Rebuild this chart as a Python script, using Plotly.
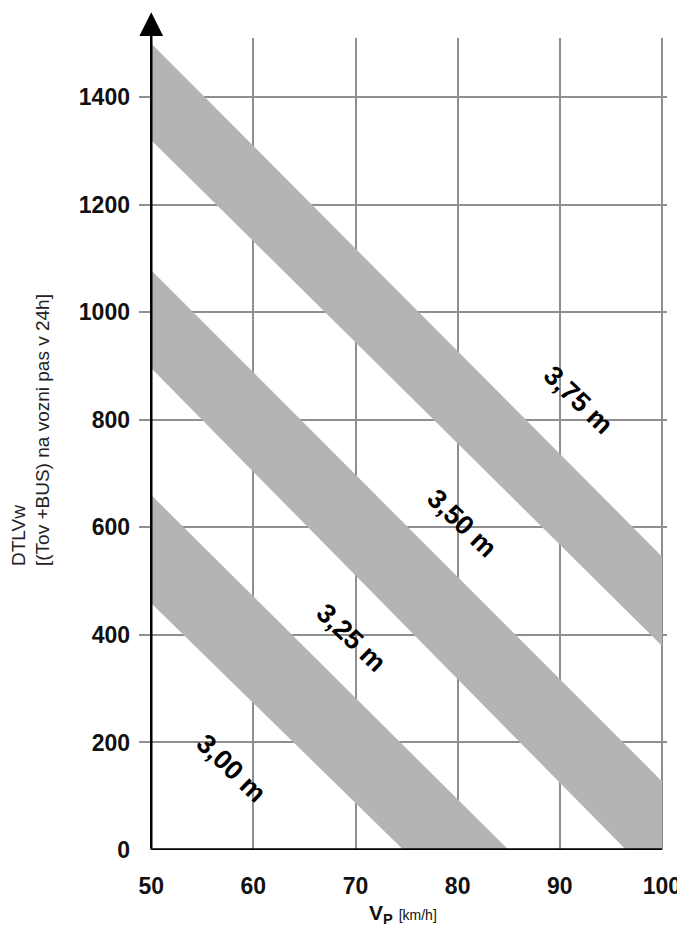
import plotly.graph_objects as go

# Data
band_labels = ["3,75 m", "3,50 m", "3,25 m"]
# polygon vertices of each shaded band (V_p, DTLVw)
band_x = [
    [50, 100, 100, 50],
    [50, 100, 100, 96.5, 50],
    [50, 85, 74.7, 50],
]
band_y = [
    [1500, 546, 380, 1320],
    [1078, 128, 0, 0, 896],
    [660, 0, 0, 459],
]
label_texts = ["3,75 m", "3,50 m", "3,25 m", "3,00 m"]
label_x = [91.8, 80.4, 69.6, 57.8]
label_y = [836, 608, 394, 152]
x_ticks = [50, 60, 70, 80, 90, 100]
y_ticks = [0, 200, 400, 600, 800, 1000, 1200, 1400]

FONT = "Liberation Sans, Arial, sans-serif"
GRAY = "#b4b4b4"

fig = go.Figure()
for xs, ys, name in zip(band_x, band_y, band_labels):
    fig.add_trace(go.Scatter(x=xs, y=ys, fill="toself", fillcolor=GRAY,
                             line=dict(width=0), mode="lines", name=name,
                             showlegend=False, hoverinfo="skip"))

for t, x, y in zip(label_texts, label_x, label_y):
    fig.add_annotation(x=x, y=y, text=t, showarrow=False,
                       textangle=44, font=dict(size=27, color="black", family=FONT, weight="bold"))

# x axis line
fig.add_shape(type="line", x0=50, x1=100, y0=0, y1=0, xref="x", yref="y",
              line=dict(color="black", width=3.5), layer="above")
# y axis with arrow
fig.add_annotation(x=50, y=1558, ax=50, ay=0, xref="x", yref="y", axref="x", ayref="y",
                   showarrow=True, arrowhead=2, arrowsize=1.9, arrowwidth=2.5,
                   arrowcolor="black", text="")

# y title
fig.add_annotation(xref="paper", yref="paper", x=-0.205, y=0.347, xanchor="center", yanchor="bottom",
                   text="DTLVw<br>[(Tov +BUS) na vozni pas v 24h]", showarrow=False,
                   textangle=-90, font=dict(size=19, color="#222", family=FONT), align="left")
# x title
fig.add_annotation(xref="paper", yref="paper", x=0.5, y=-0.079, xanchor="center", yanchor="middle",
                   text="<b>V<sub>P</sub></b> <span style='font-size:14px'>[km/h]</span>",
                   showarrow=False, font=dict(size=21, color="#111", family=FONT))

fig.update_layout(
    width=685, height=930,
    margin=dict(l=131, r=17, t=30, b=88),
    plot_bgcolor="white", paper_bgcolor="white",
    font=dict(family=FONT, color="black"),
    xaxis=dict(range=[48.8, 100.5], tickvals=x_ticks, showgrid=True, gridcolor="#8f8f8f",
               gridwidth=1.5, zeroline=False, showline=False,
               tickfont=dict(size=23, family=FONT, weight="bold", color="#111"), ticklabelstandoff=20),
    yaxis=dict(range=[0, 1510], tickvals=y_ticks, showgrid=True, gridcolor="#8f8f8f",
               gridwidth=1.5, zeroline=False, showline=False,
               tickfont=dict(size=23, family=FONT, weight="bold", color="#111"), ticklabelstandoff=8),
)

fig.write_html("out.html")
